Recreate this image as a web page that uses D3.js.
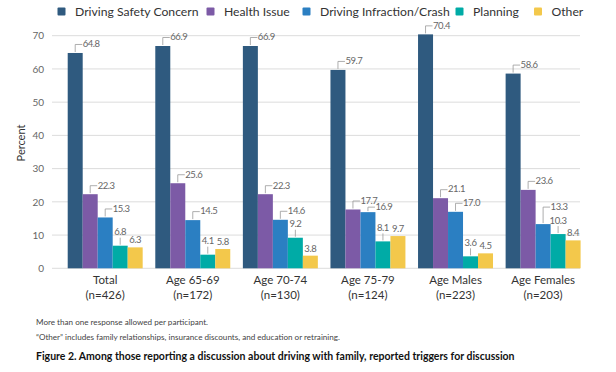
<!DOCTYPE html>
<html><head><meta charset="utf-8">
<script src="https://cdn.jsdelivr.net/npm/d3@7"></script>
<style>
html,body{margin:0;padding:0;background:#fff;}
svg{display:block;font-family:Lato, "Open Sans", sans-serif;}
</style></head>
<body>
<svg id="chart" width="616" height="372"></svg>
<script>
const categories = ["Total", "Age 65-69", "Age 70-74", "Age 75-79", "Age Males", "Age Females"];
const categoryN = ["(n=426)", "(n=172)", "(n=130)", "(n=124)", "(n=223)", "(n=203)"];
const seriesNames = ["Driving Safety Concern", "Health Issue", "Driving Infraction/Crash", "Planning", "Other"];
const drivingSafety = [64.8, 66.9, 66.9, 59.7, 70.4, 58.6];
const healthIssue = [22.3, 25.6, 22.3, 17.7, 21.1, 23.6];
const infraction = [15.3, 14.5, 14.6, 16.9, 17.0, 13.3];
const planning = [6.8, 4.1, 9.2, 8.1, 3.6, 10.3];
const other = [6.3, 5.8, 3.8, 9.7, 4.5, 8.4];
const yTicks = [0, 10, 20, 30, 40, 50, 60, 70];
const footnotes = ["More than one response allowed per participant.",
  "\u201COther\u201D includes family relationships, insurance discounts, and education or retraining."];
const title = "Figure 2. Among those reporting a discussion about driving with family, reported triggers for discussion";

const seriesValues = [drivingSafety, healthIssue, infraction, planning, other];
const colors = ["#2f5a7f", "#7c5aa6", "#2b7fc2", "#00aba6", "#f3c84b"];

const svg = d3.select("#chart");
svg.append("rect").attr("x",0).attr("y",0).attr("width",616).attr("height",372).attr("fill","#fff");

const y = d3.scaleLinear().domain([0, 70]).range([268.3, 35.7]);
const x0 = d3.scaleBand().domain(categories).range([61.4, 586.9]).paddingInner(0.144).paddingOuter(0.072);
const x1 = d3.scaleBand().domain(seriesNames).range([0, x0.bandwidth()]).padding(0);

// leader-line length overrides (layout only) keyed by "category|series"
const leaderLen = { "Age 75-79|Driving Infraction/Crash": 5, "Age Females|Driving Infraction/Crash": 17 };

// gridlines
const grid = svg.append("g");
grid.selectAll("line").data(yTicks).join("line")
  .attr("x1", 52).attr("x2", 580)
  .attr("y1", d => y(d)).attr("y2", d => y(d))
  .attr("stroke", "#dcdcdc").attr("stroke-width", 1);

// y axis labels
const yAxis = d3.axisLeft(y).tickValues(yTicks).tickSize(0).tickPadding(0);
const ya = svg.append("g").attr("transform", "translate(44,0)").call(yAxis);
ya.select(".domain").remove();
ya.selectAll("text").attr("font-size", 10).attr("fill", "#666").attr("font-family", "Lato, sans-serif");

svg.append("text").attr("transform", "translate(25,143) rotate(-90)")
  .attr("text-anchor", "middle").attr("font-size", 11).attr("fill", "#333").text("Percent");

// bars
const groups = svg.append("g").selectAll("g").data(categories).join("g")
  .attr("transform", d => `translate(${x0(d)},0)`);

const LF = 9.5, LS = -0.45;
groups.each(function(cat, ci) {
  const g = d3.select(this);
  seriesNames.forEach((s, si) => {
    const v = seriesValues[si][ci];
    const bx = x1(s), bw = x1.bandwidth();
    g.append("rect").attr("x", bx).attr("y", y(v)).attr("width", bw).attr("height", y(0) - y(v))
      .attr("fill", colors[si]);
    const cx = bx + bw / 2, top = y(v);
    const lbl = v.toFixed(1);
    if (si <= 2) {
      const L = leaderLen[cat + "|" + s] || 8.5;
      const ly = top - L;
      g.append("path").attr("d", `M${cx},${top - 1}V${ly}H${cx + 7}`)
        .attr("fill", "none").attr("stroke", "#999").attr("stroke-width", 0.8);
      g.append("text").attr("x", cx + 7.5).attr("y", ly + 2.8).attr("font-size", LF)
        .attr("fill", "#666").attr("letter-spacing", LS).text(lbl);
    } else if (si === 3) {
      g.append("line").attr("x1", cx).attr("x2", cx).attr("y1", top - 1).attr("y2", top - 8)
        .attr("stroke", "#999").attr("stroke-width", 0.8);
      g.append("text").attr("x", cx).attr("y", top - 10.5).attr("text-anchor", "middle")
        .attr("font-size", LF).attr("fill", "#666").attr("letter-spacing", LS).text(lbl);
    } else {
      g.append("text").attr("x", cx).attr("y", top - 4).attr("text-anchor", "middle")
        .attr("font-size", LF).attr("fill", "#666").attr("letter-spacing", LS).text(lbl);
    }
  });
  g.append("text").attr("x", x0.bandwidth() / 2).attr("y", 283.5).attr("text-anchor", "middle")
    .attr("font-size", 11.5).attr("fill", "#333").text(cat);
  g.append("text").attr("x", x0.bandwidth() / 2).attr("y", 299).attr("text-anchor", "middle")
    .attr("font-size", 11.5).attr("fill", "#333").text(categoryN[ci]);
});

// legend
const legendTextX = [75, 224, 320, 473, 551.5];
const leg = svg.append("g");
seriesNames.forEach((s, i) => {
  leg.append("rect").attr("x", legendTextX[i] - 17.5).attr("y", 7.5).attr("width", 8).attr("height", 8)
    .attr("rx", 1).attr("fill", colors[i]);
  leg.append("text").attr("x", legendTextX[i]).attr("y", 15.8).attr("font-size", 12.2)
    .attr("fill", "#333").text(s);
});

// footnotes
svg.append("text").attr("x", 36).attr("y", 325).attr("font-size", 8.1).attr("fill", "#444").text(footnotes[0]);
svg.append("text").attr("x", 36).attr("y", 339.5).attr("font-size", 8.1).attr("fill", "#444").text(footnotes[1]);
svg.append("text").attr("x", 36).attr("y", 360).attr("font-size", 10.5).attr("font-weight", "bold")
  .attr("fill", "#111").text(title);
</script>
</body></html>
